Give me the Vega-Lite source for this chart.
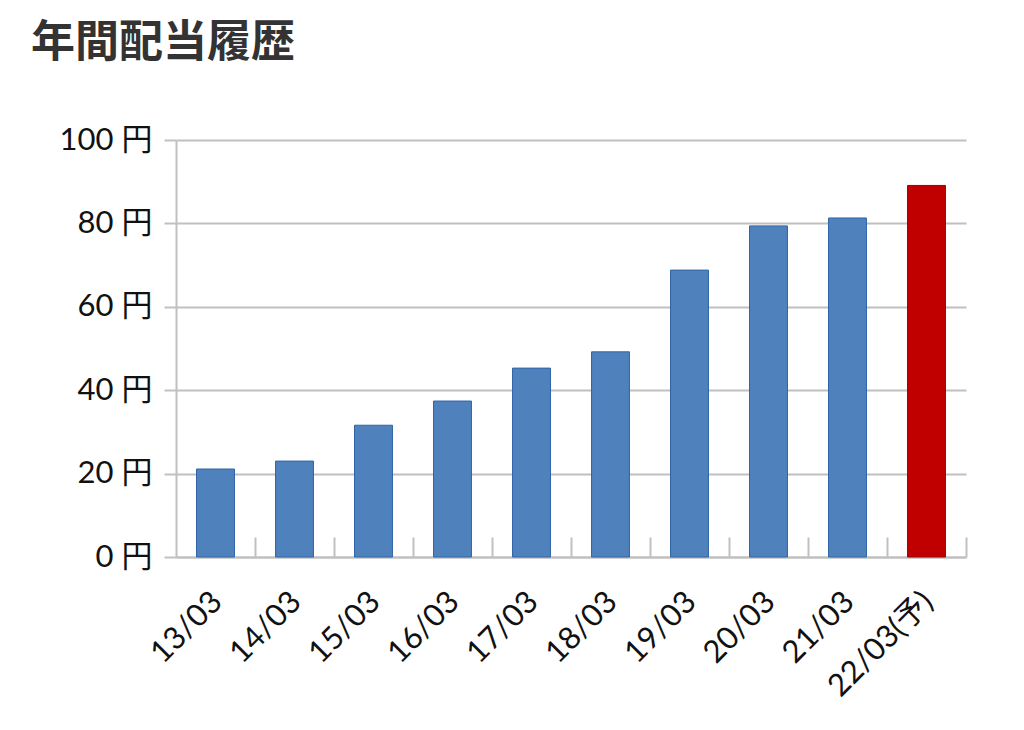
{
  "$schema": "https://vega.github.io/schema/vega-lite/v6.json",
  "autosize": "none",
  "padding": {"left": 176, "top": 140, "right": 58, "bottom": 173},
  "width": 790,
  "height": 417,
  "title": {
    "text": "年間配当履歴",
    "anchor": "start",
    "frame": "group",
    "dx": -145,
    "offset": 58,
    "fontSize": 44,
    "fontWeight": "bold",
    "font": "Noto Sans CJK JP",
    "color": "#333333"
  },
  "data": {
    "values": [
      {"year": "13/03", "dividend": 21.1, "kind": "実績"},
      {"year": "14/03", "dividend": 23.0, "kind": "実績"},
      {"year": "15/03", "dividend": 31.6, "kind": "実績"},
      {"year": "16/03", "dividend": 37.4, "kind": "実績"},
      {"year": "17/03", "dividend": 45.3, "kind": "実績"},
      {"year": "18/03", "dividend": 49.2, "kind": "実績"},
      {"year": "19/03", "dividend": 68.8, "kind": "実績"},
      {"year": "20/03", "dividend": 79.4, "kind": "実績"},
      {"year": "21/03", "dividend": 81.3, "kind": "実績"},
      {"year": "22/03(予)", "dividend": 89.1, "kind": "予想"}
    ]
  },
  "mark": {"type": "bar", "strokeWidth": 1},
  "encoding": {
    "x": {
      "field": "year",
      "type": "nominal",
      "sort": null,
      "title": null,
      "scale": {"paddingInner": 0.52, "paddingOuter": 0.26},
      "axis": {
        "bandPosition": 1,
        "tickOffset": 20.5,
        "labelOffset": -19,
        "tickSize": -20,
        "labelAngle": -45,
        "labelAlign": "right",
        "labelBaseline": "middle",
        "labelPadding": 60,
        "labelFontSize": 31
      }
    },
    "y": {
      "field": "dividend",
      "type": "quantitative",
      "title": null,
      "scale": {"domain": [0, 100]},
      "axis": {
        "values": [0, 20, 40, 60, 80, 100],
        "labelExpr": "datum.label + ' 円'",
        "tickSize": 12,
        "labelPadding": 12,
        "labelFontSize": 31
      }
    },
    "color": {
      "field": "kind",
      "type": "nominal",
      "scale": {"domain": ["実績", "予想"], "range": ["#4f81bd", "#c00000"]},
      "legend": null
    },
    "stroke": {
      "field": "kind",
      "type": "nominal",
      "scale": {"domain": ["実績", "予想"], "range": ["#2e64a8", "#a00000"]},
      "legend": null
    }
  },
  "config": {
    "view": {"stroke": null},
    "font": "Lato, Noto Sans CJK JP",
    "axis": {
      "domainColor": "#c0c0c0",
      "domainWidth": 2,
      "tickColor": "#c0c0c0",
      "tickWidth": 2,
      "gridColor": "#c0c0c0",
      "gridWidth": 2,
      "labelColor": "#111111",
      "labelFont": "Lato, Noto Sans CJK JP",
      "labelFontWeight": "normal"
    },
    "axisX": {"grid": false},
    "axisY": {"grid": true}
  }
}
